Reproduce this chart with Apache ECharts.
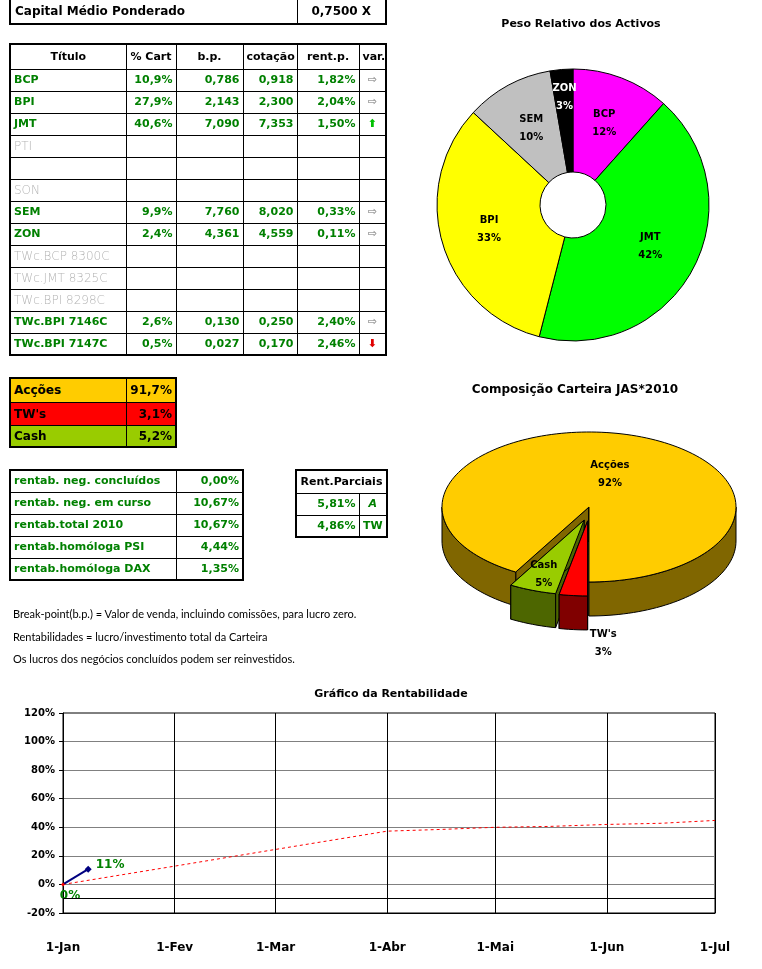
<!DOCTYPE html>
<html><head><meta charset="utf-8">
<script src="https://cdn.jsdelivr.net/npm/echarts@6/dist/echarts.min.js"></script>
<style>
html,body{margin:0;padding:0;background:#fff;width:762px;height:969px;overflow:hidden;position:relative;font-family:"DejaVu Sans",sans-serif;}
#chart{position:absolute;left:0;top:0;width:762px;height:969px;}
table.t{position:absolute;border-collapse:collapse;table-layout:fixed;z-index:2;border:2px solid #000;}
table.t td{padding:0 3px;white-space:nowrap;overflow:hidden;font-size:11px;font-weight:bold;color:#008000;border:1px solid #000;box-sizing:border-box;text-align:right;line-height:14px;}
table.t td.l{text-align:left;}
table.t td.c{text-align:center;}
table.t td.k{color:#000;}
table.t td.g{color:#b4b4b4;font-weight:200;font-size:12px;}
.note{position:absolute;left:13px;font-family:Lato,sans-serif;font-size:11px;color:#000;z-index:2;white-space:nowrap;}
</style></head>
<body>
<div id="chart"></div>
<script>
// ---------- DATA ----------
const capitalLabel = 'Capital Médio Ponderado';
const capitalValue = '0,7500 X';
const tableHeader = ['Título', '% Cart', 'b.p.', 'cotação', 'rent.p.', 'var.'];
const titulos = ['BCP', 'BPI', 'JMT', 'PTI', '', 'SON', 'SEM', 'ZON', 'TWc.BCP 8300C', 'TWc.JMT 8325C', 'TWc.BPI 8298C', 'TWc.BPI 7146C', 'TWc.BPI 7147C'];
const pctCart = [10.9, 27.9, 40.6, null, null, null, 9.9, 2.4, null, null, null, 2.6, 0.5];
const breakPoint = [0.786, 2.143, 7.090, null, null, null, 7.760, 4.361, null, null, null, 0.130, 0.027];
const cotacao = [0.918, 2.300, 7.353, null, null, null, 8.020, 4.559, null, null, null, 0.250, 0.170];
const rentP = [1.82, 2.04, 1.50, null, null, null, 0.33, 0.11, null, null, null, 2.40, 2.46];
const variacao = ['flat', 'flat', 'up', '', '', '', 'flat', 'flat', '', '', '', 'flat', 'down'];

const compNames = ['Acções', "TW's", 'Cash'];
const compValues = [91.7, 3.1, 5.2];

const rentabLabels = ['rentab. neg. concluídos', 'rentab. neg. em curso', 'rentab.total 2010', 'rentab.homóloga PSI', 'rentab.homóloga DAX'];
const rentabValues = [0.00, 10.67, 10.67, 4.44, 1.35];
const parciaisHeader = 'Rent.Parciais';
const parciaisValues = [5.81, 4.86];
const parciaisLabels = ['A', 'TW'];

const notes = [
  'Break-point(b.p.) = Valor de venda, incluindo comissões, para lucro zero.',
  'Rentabilidades = lucro/investimento total da Carteira',
  'Os lucros dos negócios concluídos podem ser reinvestidos.'
];

const pesoTitle = 'Peso Relativo dos Activos';
const pesoNames = ['BCP', 'JMT', 'BPI', 'SEM', 'ZON'];
const pesoValues = [11.6, 42.4, 32.9, 10.4, 2.7];

const compTitle = 'Composição Carteira JAS*2010';

const lineTitle = 'Gráfico da Rentabilidade';
const monthNames = ['Jan', 'Fev', 'Mar', 'Abr', 'Mai', 'Jun', 'Jul'];
const rentDates = ['2010-01-01', '2010-01-08'];
const rentValues = [0, 10.67];
const objDates = ['2010-01-01', '2010-02-01', '2010-03-01', '2010-04-01', '2010-04-16', '2010-05-01', '2010-05-16', '2010-06-01', '2010-06-16', '2010-07-01'];
const objValues = [0, 12.8, 24.5, 37.3, 38.5, 40.0, 40.6, 42.0, 42.8, 44.8];
const axisCrossValue = -10;

// ---------- HELPERS ----------
const fmt = (v, d) => v == null ? '' : v.toFixed(d).replace('.', ',');
const pdate = s => { const p = s.split('-').map(Number); return new Date(p[0], p[1] - 1, p[2]).getTime(); };

function makeTable(cls, left, top, widths, rowsHtml) {
  const t = document.createElement('table');
  t.className = 't';
  t.style.left = left + 'px'; t.style.top = top + 'px';
  t.style.width = widths.reduce((a, b) => a + b, 0) + 'px';
  t.innerHTML = '<colgroup>' + widths.map(w => '<col style="width:' + w + 'px">').join('') + '</colgroup>' + rowsHtml;
  document.body.appendChild(t);
  return t;
}

// top box
makeTable('t', 9, -3, [287, 89],
  '<tr style="height:26px"><td class="l k" style="padding-left:4px;font-size:12px">' + capitalLabel + '</td><td class="c k" style="font-size:12px">' + capitalValue + '</td></tr>');

// main table
const arrowHtml = v => v === 'flat' ? '<span style="color:#707070;font-weight:normal">⇨</span>'
  : v === 'up' ? '<span style="color:#00c000">⬆</span>'
  : v === 'down' ? '<span style="color:#e00000">⬇</span>' : '';
let rows = '<tr style="height:25px">' + tableHeader.map(h => '<td class="c k">' + h + '</td>').join('') + '</tr>';
titulos.forEach((t, i) => {
  const empty = pctCart[i] == null;
  rows += '<tr style="height:22px"><td class="l' + (empty ? ' g' : '') + '">' + t + '</td>' +
    '<td>' + (pctCart[i] == null ? '' : fmt(pctCart[i], 1) + '%') + '</td>' +
    '<td>' + fmt(breakPoint[i], 3) + '</td>' +
    '<td>' + fmt(cotacao[i], 3) + '</td>' +
    '<td>' + (rentP[i] == null ? '' : fmt(rentP[i], 2) + '%') + '</td>' +
    '<td class="c">' + arrowHtml(variacao[i]) + '</td></tr>';
});
makeTable('t', 9, 43, [116, 50, 67, 54, 62, 27], rows);

// composition box
const compBg = ['#FFCC00', '#FF0000', '#99CC00'];
const compH = [24, 23, 22];
rows = '';
compNames.forEach((n, i) => {
  rows += '<tr style="height:' + compH[i] + 'px;background:' + compBg[i] + '"><td class="l k" style="font-size:12px">' + n + '</td><td class="k" style="font-size:12px">' + fmt(compValues[i], 1) + '%</td></tr>';
});
makeTable('t', 9, 377, [116, 50], rows);

// rentab table
rows = '';
rentabLabels.forEach((n, i) => {
  rows += '<tr style="height:22px"><td class="l">' + n + '</td><td>' + fmt(rentabValues[i], 2) + '%</td></tr>';
});
makeTable('t', 9, 469, [166, 67], rows);

// parciais
rows = '<tr style="height:23px"><td class="c k" colspan="2">' + parciaisHeader + '</td></tr>';
parciaisValues.forEach((v, i) => {
  rows += '<tr style="height:22px"><td>' + fmt(v, 2) + '%</td><td class="c" style="' + (i === 0 ? 'font-style:italic' : '') + '">' + parciaisLabels[i] + '</td></tr>';
});
makeTable('t', 295, 469, [63, 28], rows);

// notes
const noteTops = [607, 630, 652];
notes.forEach((n, i) => {
  const d = document.createElement('div');
  d.className = 'note'; d.style.top = noteTops[i] + 'px'; d.textContent = n;
  document.body.appendChild(d);
});

// ---------- CHART ----------
const chart = echarts.init(document.getElementById('chart'), null, { renderer: 'canvas' });

const P3 = { cx: 589, cy: 507, rx: 147, ry: 75, depth: 34, start: 209.9 };
const p3Explode = [0, 14, 14];
const p3Top = ['#FFCC00', '#FF0000', '#99CC00'];
const p3Side = ['#806600', '#800000', '#4D6600'];
const p3Label = [{ f: 0.5, dx: 2, dy: 4 }, { f: 1, dx: 30, dy: 48 }, { f: 0.78, dx: 0, dy: 0 }];
const compTotal = compValues.reduce((a, b) => a + b, 0);

function render3d(params, api) {
  const i = params.dataIndex;
  const rad = d => d * Math.PI / 180;
  let a0 = P3.start;
  for (let k = 0; k < i; k++) a0 += compValues[k] / compTotal * 360;
  const a1 = a0 + api.value(0) / compTotal * 360;
  const am = (a0 + a1) / 2;
  const E = p3Explode[i];
  const ox = P3.cx + E * Math.sin(rad(am)), oy = P3.cy - E * Math.cos(rad(am));
  const D = P3.depth;
  const pt = (th, dz) => [ox + P3.rx * Math.sin(rad(th)), oy - P3.ry * Math.cos(rad(th)) + dz];
  const front = -Math.cos(rad(am));
  const baseZ = Math.round((front + 1) * 100);
  const ls = { stroke: '#000', lineWidth: 1 };
  const ch = [];
  [a0, a1].forEach(th => {
    ch.push({ type: 'polygon', z2: baseZ, shape: { points: [[ox, oy], pt(th, 0), pt(th, D), [ox, oy + D]] },
      style: Object.assign({ fill: p3Side[i] }, ls) });
  });
  for (let k = -1; k <= 2; k++) {
    const s = Math.max(a0, 90 + 360 * k), e = Math.min(a1, 270 + 360 * k);
    if (e > s) {
      const n = Math.max(2, Math.ceil((e - s) / 2));
      const pts = [];
      for (let j = 0; j <= n; j++) pts.push(pt(s + (e - s) * j / n, 0));
      for (let j = n; j >= 0; j--) pts.push(pt(s + (e - s) * j / n, D));
      ch.push({ type: 'polygon', z2: baseZ + 1, shape: { points: pts }, style: Object.assign({ fill: p3Side[i] }, ls) });
    }
  }
  const n = Math.max(2, Math.ceil((a1 - a0) / 2));
  const tp = [[ox, oy]];
  for (let j = 0; j <= n; j++) tp.push(pt(a0 + (a1 - a0) * j / n, 0));
  ch.push({ type: 'polygon', z2: baseZ + 2, shape: { points: tp }, style: Object.assign({ fill: p3Top[i] }, ls) });
  const L = p3Label[i];
  const lx = ox + L.f * P3.rx * Math.sin(rad(am)) + L.dx;
  const ly = oy - L.f * P3.ry * Math.cos(rad(am)) + L.dy;
  ch.push({ type: 'text', z2: 1000, x: lx, y: ly, style: {
    text: compNames[i] + '\n' + Math.round(api.value(0) / compTotal * 100) + '%',
    fill: '#000', font: 'bold 10px "DejaVu Sans"', align: 'center', verticalAlign: 'middle', lineHeight: 18 } });
  return { type: 'group', children: ch };
}

const pesoColors = ['#FF00FF', '#00FF00', '#FFFF00', '#C0C0C0', '#000000'];

const option = {
  animation: false,
  backgroundColor: '#fff',
  textStyle: { fontFamily: 'DejaVu Sans' },
  title: [
    { text: pesoTitle, left: 576, top: 14, textAlign: 'center', textStyle: { fontSize: 11, fontWeight: 'bold', color: '#000' } },
    { text: compTitle, left: 570, top: 379, textAlign: 'center', textStyle: { fontSize: 12, fontWeight: 'bold', color: '#000' } },
    { text: lineTitle, left: 386, top: 684, textAlign: 'center', textStyle: { fontSize: 11, fontWeight: 'bold', color: '#000' } }
  ],
  grid: { left: 63, top: 713, width: 652, height: 200, show: true, borderColor: '#000', borderWidth: 1, backgroundColor: '#fff', containLabel: false },
  xAxis: {
    type: 'time', min: pdate('2010-01-01'), max: pdate('2010-07-01'),
    axisLine: { show: true, onZero: false, lineStyle: { color: '#000' } },
    axisTick: { show: false },
    splitLine: { show: true, lineStyle: { color: '#000', width: 1 } },
    axisLabel: {
      margin: 29, color: '#000', fontWeight: 'bold', fontSize: 12, showMinLabel: true, showMaxLabel: true,
      formatter: v => { const d = new Date(v); return d.getDate() + '-' + monthNames[d.getMonth()]; }
    }
  },
  yAxis: {
    type: 'value', min: -20, max: 120, interval: 20,
    axisLine: { show: true, lineStyle: { color: '#000' } },
    axisTick: { show: true, length: 4, lineStyle: { color: '#000' } },
    splitLine: { show: true, showMinLine: false, showMaxLine: false, lineStyle: { color: '#808080', width: 1 } },
    axisLabel: { margin: 8, color: '#000', fontWeight: 'bold', fontSize: 10, formatter: '{value}%' }
  },
  series: [
    {
      type: 'pie', center: [573, 205], radius: [33, 136], startAngle: 90, clockwise: true,
      percentPrecision: 0, silent: true,
      itemStyle: { borderColor: '#000', borderWidth: 1 },
      label: { show: true, position: 'inside', formatter: '{b}\n{d}%', color: '#000', fontSize: 10, fontWeight: 'bold', lineHeight: 18 },
      labelLine: { show: false },
      data: pesoNames.map((n, i) => ({ name: n, value: pesoValues[i], itemStyle: { color: pesoColors[i] },
        label: n === 'ZON' ? { color: '#fff', offset: [-1, -20] } : {} }))
    },
    {
      type: 'custom', coordinateSystem: 'none', silent: true,
      renderItem: render3d,
      data: compValues.map(v => [v])
    },
    {
      type: 'line', z: 2, symbol: 'none', silent: true,
      lineStyle: { color: '#FF0000', width: 1, type: [3, 3] },
      data: objDates.map((d, i) => [pdate(d), objValues[i]]),
      markLine: { silent: true, symbol: 'none', label: { show: false }, lineStyle: { color: '#000', type: 'solid', width: 1 },
        data: [{ yAxis: axisCrossValue }] }
    },
    {
      type: 'line', z: 3, symbol: 'diamond', symbolSize: 7, silent: true,
      lineStyle: { color: '#000080', width: 2 }, itemStyle: { color: '#000080' },
      label: { show: true, color: '#008000', fontWeight: 'bold', fontSize: 12, formatter: p => Math.round(p.value[1]) + '%' },
      data: rentDates.map((d, i) => ({
        value: [pdate(d), rentValues[i]],
        itemStyle: i === 0 ? { color: '#FF0000' } : {},
        symbolSize: i === 0 ? 4 : 7,
        label: i === 0 ? { position: 'bottom', offset: [7, -2] } : { position: 'right', distance: 4, offset: [0, -4] }
      }))
    }
  ]
};
chart.setOption(option);
</script>
</body></html>
